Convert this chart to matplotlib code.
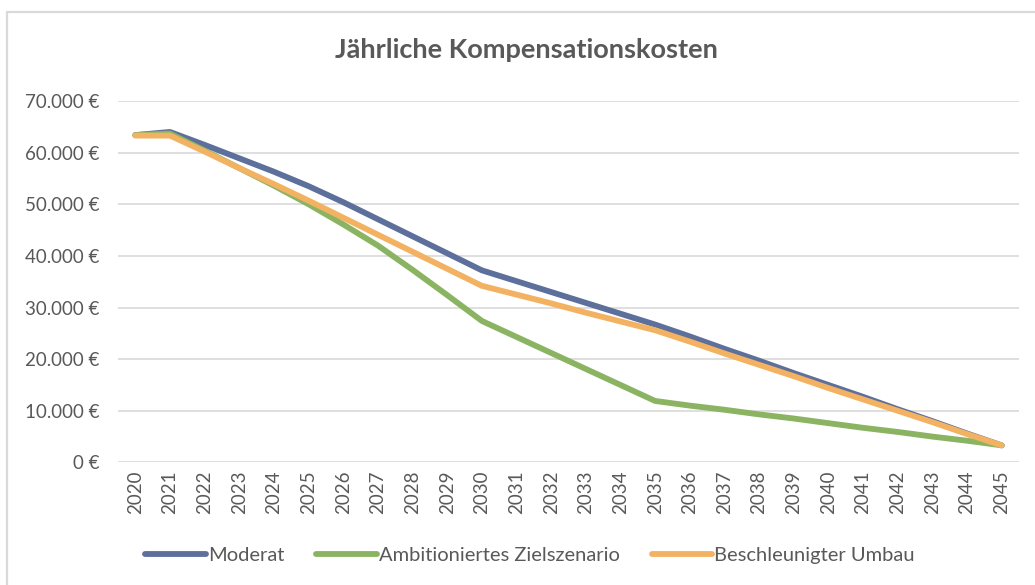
import matplotlib
matplotlib.use("Agg")
import matplotlib.pyplot as plt
from matplotlib.patches import Rectangle
from matplotlib.ticker import FuncFormatter

# ── Data ─────────────────────────────────────────────────────────────────────

years = [str(y) for y in range(2020, 2046)]

moderat = [
    63400, 64000, 61500, 58900, 56300, 53500, 50400, 47100, 43800, 40500,
    37200, 35100, 33000, 30900, 28800, 26700, 24400, 22000, 19700, 17300,
    15000, 12700, 10300, 8000, 5600, 3300,
]
ambitioniert = [
    63400, 63700, 60400, 57000, 53600, 50000, 46100, 42000, 37300, 32400,
    27400, 24300, 21200, 18100, 15000, 11900, 11000, 10200, 9300, 8500,
    7600, 6700, 5900, 5000, 4200, 3300,
]
beschleunigt = [
    63300, 63300, 60200, 57000, 53900, 50700, 47400, 44100, 40800, 37500,
    34200, 32500, 30800, 29000, 27300, 25600, 23400, 21100, 18900, 16700,
    14400, 12200, 10000, 7800, 5500, 3300,
]

series = [
    ("Moderat", moderat, "#5d6f9b"),
    ("Ambitioniertes Zielszenario", ambitioniert, "#8ab462"),
    ("Beschleunigter Umbau", beschleunigt, "#f3b261"),
]

TEXT = "#595959"
GRID = "#d9d9d9"

plt.rcParams["font.family"] = ["Lato", "DejaVu Sans"]

# ── Figure ───────────────────────────────────────────────────────────────────

fig = plt.figure(figsize=(10.35, 5.85), dpi=100, facecolor="white")
ax = fig.add_axes([118 / 1035, 1 - 462.4 / 585, 901 / 1035, 361.4 / 585])

# chart frame
fig.patches.append(Rectangle(
    (7 / 1035, -0.05), 1.1, 1.05 - 12 / 585, transform=fig.transFigure,
    fill=False, edgecolor=GRID, linewidth=1.6, zorder=0,
))

x = list(range(len(years)))
for name, vals, col in series:
    ax.plot(x, vals, color=col, linewidth=4.2, solid_capstyle="round",
            solid_joinstyle="round", label=name, zorder=3)

ax.set_xlim(-0.5, len(years) - 0.5)
ax.set_ylim(0, 70000)
ax.set_yticks(range(0, 70001, 10000))
ax.yaxis.set_major_formatter(FuncFormatter(
    lambda v, _: f"{int(v):,} €".replace(",", ".")))
ax.set_xticks(x)
ax.set_xticklabels(years, rotation=90)

ax.grid(axis="y", color=GRID, linewidth=1.2, zorder=0)
ax.set_axisbelow(True)
for sp in ax.spines.values():
    sp.set_visible(False)
ax.tick_params(length=0, colors=TEXT)
ax.tick_params(axis="y", pad=13.5, labelsize=13.5)
ax.tick_params(axis="x", pad=6, labelsize=13.5)

fig.text(526 / 1035, 1 - 50 / 585, "Jährliche Kompensationskosten",
         ha="center", va="center", fontsize=19.5, fontweight="bold", color=TEXT)

leg = fig.legend(loc="center", bbox_to_anchor=(530 / 1035, 1 - 555 / 585),
                 ncol=3, frameon=False, fontsize=14.5, handlelength=3.0,
                 handletextpad=0.1, columnspacing=1.6)
for t in leg.get_texts():
    t.set_color(TEXT)
for h in leg.get_lines():
    h.set_linewidth(4.2)

fig.savefig("out.png", dpi=100, facecolor=fig.get_facecolor())
